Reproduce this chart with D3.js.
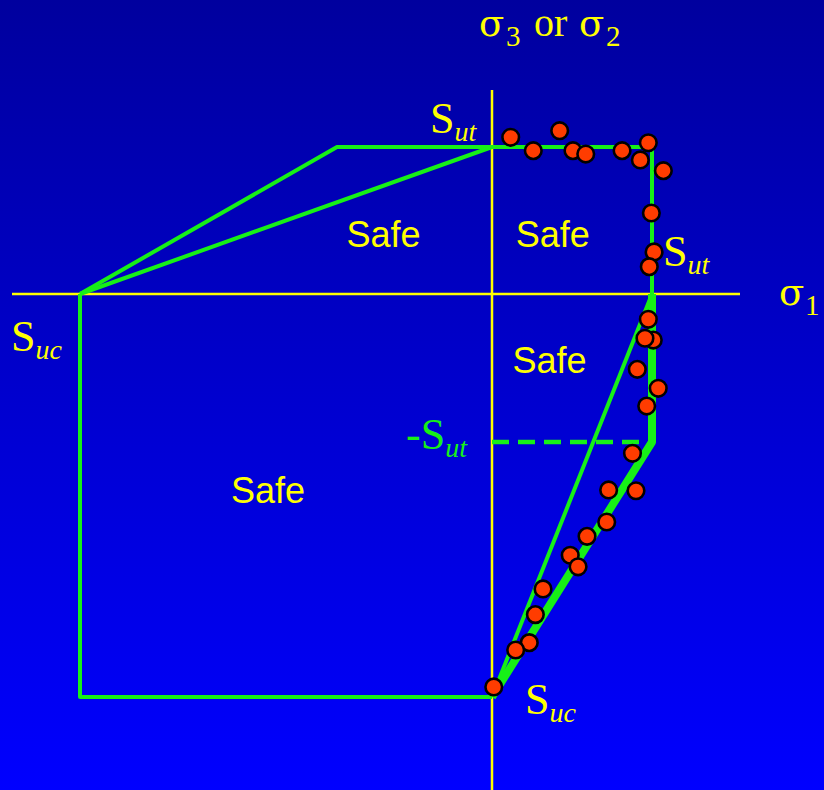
<!DOCTYPE html>
<html>
<head>
<meta charset="utf-8">
<script src="https://cdn.jsdelivr.net/npm/d3@7"></script>
<style>
  html, body { margin: 0; padding: 0; background: #0000c0; }
  svg { display: block; }
</style>
</head>
<body>
<div id="chart"></div>
<script>
// Strengths, in units of Sut
const SUT = 1.0
const SUC = 2.6

// Envelope corners (sigma_1, sigma_3)
const mohr_upper = [[-SUC, 0], [-SUT, SUT], [SUT, SUT], [SUT, 0]]
const coulomb_upper = [[-SUC, 0], [0, SUT]]
const coulomb_lower = [[SUT, 0], [0, -SUC]]
const modified_lower = [[SUT, 0], [SUT, -SUT], [0, -SUC]]
const normal_box = [[-SUC, 0], [-SUC, -SUC], [0, -SUC]]
const cutoff_line = [[0, -SUT], [SUT, -SUT]]

// Test data, sigma/Sut
const test_s1 = [0.117, 0.258, 0.423, 0.506, 0.586, 0.813, 0.977, 0.927, 1.071, 0.996,
  1.013, 0.983, 0.977, 1.008, 0.956, 0.908, 1.039, 0.967, 0.878, 0.729,
  0.900, 0.717, 0.594, 0.489, 0.538, 0.319, 0.271, 0.233, 0.148, 0.011]
const test_s3 = [1.066, 0.975, 1.111, 0.975, 0.952, 0.975, 1.029, 0.912, 0.839, 0.551,
  0.286, 0.186, -0.171, -0.311, -0.299, -0.509, -0.637, -0.757, -1.071, -1.301,
  -1.306, -1.502, -1.592, -1.711, -1.783, -1.922, -2.083, -2.259, -2.305, -2.537]

const safe_labels = [[-0.7, 0.32], [0.38, 0.32], [0.36, -0.535], [-1.43, -1.383]]

const width = 824
const height = 790
const line_color = '#17f017'
const text_color = '#ffff00'
const serif = 'Liberation Serif, Times New Roman, serif'

const svg = d3.select('#chart')
  .append('svg')
  .attr('width', width)
  .attr('height', height)

// Background
const grad = svg.append('defs')
  .append('linearGradient')
  .attr('id', 'bg')
  .attr('x1', 0).attr('y1', 0)
  .attr('x2', 0).attr('y2', 1)
grad.append('stop').attr('offset', '0%').attr('stop-color', '#00009e')
grad.append('stop').attr('offset', '100%').attr('stop-color', '#0000ff')
svg.append('rect')
  .attr('width', width)
  .attr('height', height)
  .attr('fill', 'url(#bg)')

// Scales (the drawing is not to one scale on each side)
const x = d3.scaleLinear()
  .domain([-SUC, -SUT, 0, SUT])
  .range([80, 337, 492, 652])
const y = d3.scaleLinear()
  .domain([-SUC, -SUT, 0, SUT])
  .range([697, 442, 294, 147])

// Axes
const axes = svg.append('g')
axes.append('line')
  .attr('x1', 12).attr('x2', 740)
  .attr('y1', y(0)).attr('y2', y(0))
  .attr('stroke', text_color)
  .attr('stroke-width', 2.5)
axes.append('line')
  .attr('x1', x(0)).attr('x2', x(0))
  .attr('y1', 90).attr('y2', height)
  .attr('stroke', text_color)
  .attr('stroke-width', 2.5)

// Envelopes
const line = d3.line().x(d => x(d[0])).y(d => y(d[1]))
const env = svg.append('g')
  .attr('fill', 'none')
  .attr('stroke', line_color)
  .attr('stroke-linejoin', 'round')
env.append('path').attr('d', line(mohr_upper)).attr('stroke-width', 4)
env.append('path').attr('d', line(coulomb_upper)).attr('stroke-width', 4)
env.append('path').attr('d', line(normal_box)).attr('stroke-width', 4)
env.append('path').attr('d', line(coulomb_lower)).attr('stroke-width', 4)
env.append('path').attr('d', line(modified_lower)).attr('stroke-width', 8)
env.append('path').attr('d', line(cutoff_line))
  .attr('stroke-width', 4.5)
  .attr('stroke-dasharray', '17,9')

// Test points
svg.append('g')
  .selectAll('circle')
  .data(d3.range(test_s1.length))
  .join('circle')
  .attr('cx', i => x(test_s1[i]))
  .attr('cy', i => y(test_s3[i]))
  .attr('r', 8.3)
  .attr('fill', '#ff3c00')
  .attr('stroke', '#000')
  .attr('stroke-width', 2.6)

// "Safe" labels
svg.append('g')
  .selectAll('text')
  .data(safe_labels)
  .join('text')
  .attr('x', d => x(d[0]))
  .attr('y', d => y(d[1]))
  .attr('text-anchor', 'middle')
  .attr('font-family', 'Liberation Sans, Arial, sans-serif')
  .attr('font-size', 36)
  .attr('fill', text_color)
  .text('Safe')

// Subscripted labels
function sub_label(px, py, main, sub, color) {
  const t = svg.append('text')
    .attr('x', px)
    .attr('y', py)
    .attr('font-family', serif)
    .attr('font-size', 44)
    .attr('fill', color)
  t.append('tspan').text(main)
  t.append('tspan')
    .attr('font-size', 28)
    .attr('font-style', 'italic')
    .attr('dy', 8)
    .text(sub)
}
sub_label(430, 133, 'S', 'ut', text_color)
sub_label(663, 266, 'S', 'ut', text_color)
sub_label(11, 351, 'S', 'uc', text_color)
sub_label(525, 714, 'S', 'uc', text_color)
sub_label(406, 449, '-S', 'ut', line_color)

// Axis titles: [dx, text, subscript?]
function sigma(px, py, pieces) {
  const t = svg.append('text')
    .attr('y', py)
    .attr('font-family', serif)
    .attr('fill', text_color)
  pieces.forEach(p => {
    const s = t.append('tspan')
      .attr('x', px + p[0])
      .attr('y', py + (p[2] ? 10 : 0))
      .attr('font-size', p[2] ? 29 : 40)
      .text(p[1])
    if (p[1] === 'σ') s.attr('font-family', 'DejaVu Serif, serif').attr('font-size', 37)
  })
}
sigma(479, 36, [[0, 'σ', 0], [27, '3', 1], [55, 'or', 0], [100, 'σ', 0], [127, '2', 1]])
sigma(779, 305, [[0, 'σ', 0], [26, '1', 1]])
</script>
</body>
</html>
